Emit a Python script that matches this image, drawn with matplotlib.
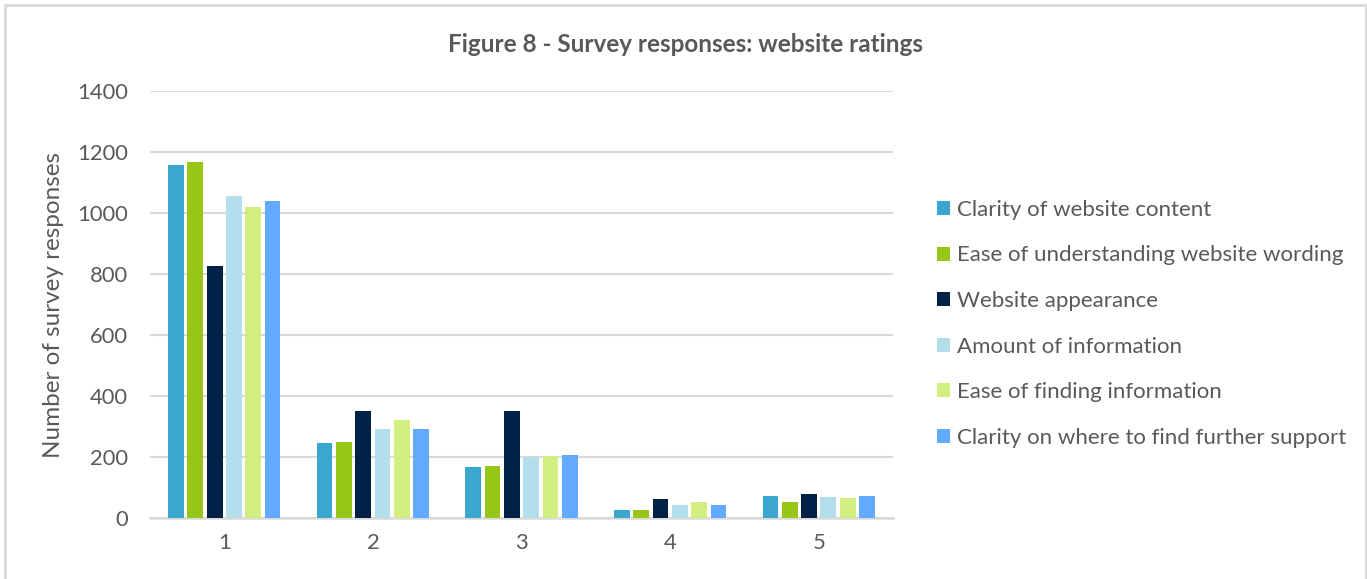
import numpy as np
import matplotlib
matplotlib.use("Agg")
from matplotlib import pyplot as plt
from matplotlib.patches import Rectangle

plt.rcParams['font.family'] = ['Lato', 'DejaVu Sans']

ratings = [1, 2, 3, 4, 5]
series_names = [
    "Clarity of website content",
    "Ease of understanding website wording",
    "Website appearance",
    "Amount of information",
    "Ease of finding information",
    "Clarity on where to find further support",
]
clarity_content = [1158, 246, 167, 27, 73]
ease_wording = [1167, 250, 171, 27, 53]
appearance = [825, 351, 352, 62, 79]
amount_info = [1056, 292, 200, 44, 69]
finding_info = [1019, 321, 203, 53, 66]
further_support = [1040, 292, 208, 44, 73]

values = [clarity_content, ease_wording, appearance, amount_info, finding_info, further_support]
colors = ['#3AA8CE', '#97C619', '#012147', '#B4DEEC', '#D2EE7F', '#63A9FF']

txt = '#595959'
grid = '#D9D9D9'

fig = plt.figure(figsize=(13.67, 5.79), dpi=100)
ax = fig.add_axes([150/1367, 1 - 518/579, 743/1367, 427/579])

x = np.array(ratings, dtype=float)
step = 0.13
for i, (name, vals, c) in enumerate(zip(series_names, values, colors)):
    ax.bar(x + (i - 2.5) * step, vals, width=0.106, color=c, label=name, zorder=3)

ax.set_xlim(0.5, 5.5)
ax.set_ylim(0, 1400)
ax.set_yticks(np.arange(0, 1401, 200))
ax.set_xticks(ratings)
ax.yaxis.grid(True, color=grid, linewidth=1.5, zorder=0)
for s in ['top', 'right', 'left']:
    ax.spines[s].set_visible(False)
ax.spines['bottom'].set_color(grid)
ax.spines['bottom'].set_linewidth(1.8)
ax.tick_params(axis='both', length=0, labelsize=15.8, labelcolor=txt)
ax.tick_params(axis='y', pad=16)
ax.tick_params(axis='x', pad=11)
ax.set_ylabel("Number of survey responses", fontsize=17.5, color=txt, labelpad=9)

fig.text(685/1367, 1 - 44/579, "Figure 8 - Survey responses: website ratings",
         ha='center', va='center', fontsize=17.5, fontweight='bold', color=txt)

leg = fig.legend(loc='upper left', bbox_to_anchor=(928/1367, 1 - 191/579),
                 frameon=False, fontsize=16, handlelength=0.6, handleheight=0.6,
                 handletextpad=0.3, labelspacing=1.15, borderaxespad=0)
for t in leg.get_texts():
    t.set_color(txt)

fig.patches.append(Rectangle((5/1367, -0.05), 1361/1367, 1 - 5/579 + 0.05,
                             transform=fig.transFigure, fill=False,
                             edgecolor=grid, linewidth=2))

fig.savefig("out.png", dpi=100)
